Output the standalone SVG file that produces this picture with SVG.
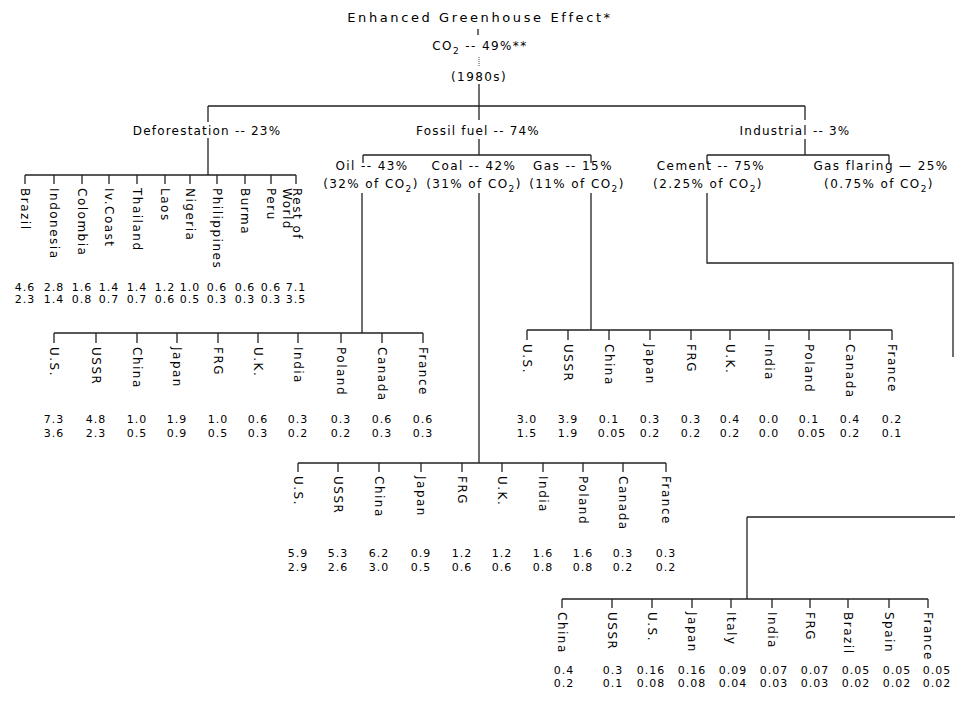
<svg xmlns="http://www.w3.org/2000/svg" width="955" height="701" viewBox="0 0 955 701">
<style>
text{font-family:"DejaVu Sans","Liberation Sans",sans-serif;fill:#000}
.title{font-size:13px;letter-spacing:2.6px;text-anchor:middle}
.h{font-size:12px;text-anchor:middle;letter-spacing:1.2px}
.s{font-size:12px;text-anchor:middle;letter-spacing:1.4px}
.lbl{font-size:12px;letter-spacing:1.5px}
.num{font-size:11px;text-anchor:middle;letter-spacing:1px}
.ln{stroke:#222;stroke-width:1.3;fill:none}
.dot{stroke:#444;stroke-width:1;stroke-dasharray:1 1;fill:none}
</style>
<rect width="955" height="701" fill="#fff"/>
<g id="connectors">
<path class="ln" d="M478,29V35"/>
<path class="dot" d="M479,57V67"/>
<path class="ln" d="M479,84V106 M208,106H805"/>
<path class="ln" d="M208,106V122 M208,138V175 M25,175H296 M25,175V184 M54,175V184 M82,175V184 M109,175V184 M137,175V184 M165,175V184 M190,175V184 M217,175V184 M245,175V184 M271,175V184 M296,175V184"/>
<path class="ln" d="M479,106V120 M479,139V155 M363,155H591 M363,155V163 M591,155V163"/>
<path class="ln" d="M805,106V120 M805,139V155 M707,155H889 M707,155V163 M889,155V163"/>
<path class="ln" d="M362,193V333 M54,333H423 M54,333V343 M96,333V343 M137,333V343 M177,333V343 M218,333V343 M258,333V343 M298,333V343 M341,333V343 M382,333V343 M423,333V343"/>
<path class="ln" d="M479,193V463 M298,463H666 M298,463V472 M338,463V472 M379,463V472 M421,463V472 M462,463V472 M502,463V472 M543,463V472 M583,463V472 M623,463V472 M666,463V472"/>
<path class="ln" d="M591,193V330 M527,330H892 M527,330V340 M568,330V340 M609,330V340 M650,330V340 M691,330V340 M730,330V340 M769,330V340 M809,330V340 M850,330V340 M892,330V340"/>
<path class="ln" d="M707,193V263H953V357 M747,517H955 M747,517V599 M562,599H928 M562,599V608 M612,599V608 M652,599V608 M692,599V608 M731,599V608 M772,599V608 M810,599V608 M848,599V608 M889,599V608 M928,599V608"/>
</g>
<g id="root">
<text class="title" x="480" y="22">Enhanced Greenhouse Effect*</text>
<text class="s" x="480" y="50">CO<tspan font-size="9" dy="4">2</tspan><tspan dy="-4"> -- 49%**</tspan></text>
<text class="s" x="479" y="81">(1980s)</text>
</g>
<g id="deforestation"><text class="h" x="207" y="135">Deforestation -- 23%</text></g>
<g id="fossil"><text class="h" x="478" y="135">Fossil fuel -- 74%</text></g>
<g id="industrial"><text class="h" x="795" y="135">Industrial -- 3%</text></g>
<g id="oil"><text class="s" x="372" y="170">Oil -- 43%</text><text class="s" x="371" y="188">(32% of CO<tspan font-size="9" dy="4">2</tspan><tspan dy="-4">)</tspan></text></g>
<g id="coal"><text class="s" x="474" y="170">Coal -- 42%</text><text class="s" x="474" y="188">(31% of CO<tspan font-size="9" dy="4">2</tspan><tspan dy="-4">)</tspan></text></g>
<g id="gas"><text class="s" x="573" y="170">Gas -- 15%</text><text class="s" x="577" y="188">(11% of CO<tspan font-size="9" dy="4">2</tspan><tspan dy="-4">)</tspan></text></g>
<g id="cement"><text class="s" x="711" y="170">Cement -- 75%</text><text class="s" x="708" y="188">(2.25% of CO<tspan font-size="9" dy="4">2</tspan><tspan dy="-4">)</tspan></text></g>
<g id="gasflaring"><text class="s" x="881" y="170">Gas flaring — 25%</text><text class="s" x="879" y="188">(0.75% of CO<tspan font-size="9" dy="4">2</tspan><tspan dy="-4">)</tspan></text></g>

<g id="def-leaves">
<g id="def-brazil"><text class="lbl" transform="translate(21,188) rotate(90)">Brazil</text><text class="num" x="25" y="291">4.6</text><text class="num" x="25" y="303">2.3</text></g>
<g id="def-indonesia"><text class="lbl" transform="translate(50,188) rotate(90)">Indonesia</text><text class="num" x="54" y="291">2.8</text><text class="num" x="54" y="303">1.4</text></g>
<g id="def-colombia"><text class="lbl" transform="translate(78,188) rotate(90)">Colombia</text><text class="num" x="82" y="291">1.6</text><text class="num" x="82" y="303">0.8</text></g>
<g id="def-ivcoast"><text class="lbl" transform="translate(105,188) rotate(90)">Iv.Coast</text><text class="num" x="109" y="291">1.4</text><text class="num" x="109" y="303">0.7</text></g>
<g id="def-thailand"><text class="lbl" transform="translate(133,188) rotate(90)">Thailand</text><text class="num" x="137" y="291">1.4</text><text class="num" x="137" y="303">0.7</text></g>
<g id="def-laos"><text class="lbl" transform="translate(161,188) rotate(90)">Laos</text><text class="num" x="165" y="291">1.2</text><text class="num" x="165" y="303">0.6</text></g>
<g id="def-nigeria"><text class="lbl" transform="translate(186,188) rotate(90)">Nigeria</text><text class="num" x="190" y="291">1.0</text><text class="num" x="190" y="303">0.5</text></g>
<g id="def-philippines"><text class="lbl" transform="translate(213,188) rotate(90)">Philippines</text><text class="num" x="217" y="291">0.6</text><text class="num" x="217" y="303">0.3</text></g>
<g id="def-burma"><text class="lbl" transform="translate(241,188) rotate(90)">Burma</text><text class="num" x="245" y="291">0.6</text><text class="num" x="245" y="303">0.3</text></g>
<g id="def-peru"><text class="lbl" transform="translate(267,188) rotate(90)">Peru</text><text class="num" x="271" y="291">0.6</text><text class="num" x="271" y="303">0.3</text></g>
<g id="def-rest"><text class="lbl" transform="translate(293,188) rotate(90)">Rest of</text><text class="lbl" transform="translate(283,188) rotate(90)">World</text><text class="num" x="296" y="291">7.1</text><text class="num" x="296" y="303">3.5</text></g>
</g>

<g id="oil-leaves">
<g id="oil-us"><text class="lbl" transform="translate(50,347) rotate(90)">U.S.</text><text class="num" x="54" y="423">7.3</text><text class="num" x="54" y="437">3.6</text></g>
<g id="oil-ussr"><text class="lbl" transform="translate(92,347) rotate(90)">USSR</text><text class="num" x="96" y="423">4.8</text><text class="num" x="96" y="437">2.3</text></g>
<g id="oil-china"><text class="lbl" transform="translate(133,347) rotate(90)">China</text><text class="num" x="137" y="423">1.0</text><text class="num" x="137" y="437">0.5</text></g>
<g id="oil-japan"><text class="lbl" transform="translate(173,347) rotate(90)">Japan</text><text class="num" x="177" y="423">1.9</text><text class="num" x="177" y="437">0.9</text></g>
<g id="oil-frg"><text class="lbl" transform="translate(214,347) rotate(90)">FRG</text><text class="num" x="218" y="423">1.0</text><text class="num" x="218" y="437">0.5</text></g>
<g id="oil-uk"><text class="lbl" transform="translate(254,347) rotate(90)">U.K.</text><text class="num" x="258" y="423">0.6</text><text class="num" x="258" y="437">0.3</text></g>
<g id="oil-india"><text class="lbl" transform="translate(294,347) rotate(90)">India</text><text class="num" x="298" y="423">0.3</text><text class="num" x="298" y="437">0.2</text></g>
<g id="oil-poland"><text class="lbl" transform="translate(337,347) rotate(90)">Poland</text><text class="num" x="341" y="423">0.3</text><text class="num" x="341" y="437">0.2</text></g>
<g id="oil-canada"><text class="lbl" transform="translate(378,347) rotate(90)">Canada</text><text class="num" x="382" y="423">0.6</text><text class="num" x="382" y="437">0.3</text></g>
<g id="oil-france"><text class="lbl" transform="translate(419,347) rotate(90)">France</text><text class="num" x="423" y="423">0.6</text><text class="num" x="423" y="437">0.3</text></g>
</g>

<g id="gas-leaves">
<g id="gas-us"><text class="lbl" transform="translate(523,344) rotate(90)">U.S.</text><text class="num" x="527" y="423">3.0</text><text class="num" x="527" y="437">1.5</text></g>
<g id="gas-ussr"><text class="lbl" transform="translate(564,344) rotate(90)">USSR</text><text class="num" x="568" y="423">3.9</text><text class="num" x="568" y="437">1.9</text></g>
<g id="gas-china"><text class="lbl" transform="translate(605,344) rotate(90)">China</text><text class="num" x="609" y="423">0.1</text><text class="num" x="612" y="437">0.05</text></g>
<g id="gas-japan"><text class="lbl" transform="translate(646,344) rotate(90)">Japan</text><text class="num" x="650" y="423">0.3</text><text class="num" x="650" y="437">0.2</text></g>
<g id="gas-frg"><text class="lbl" transform="translate(687,344) rotate(90)">FRG</text><text class="num" x="691" y="423">0.3</text><text class="num" x="691" y="437">0.2</text></g>
<g id="gas-uk"><text class="lbl" transform="translate(726,344) rotate(90)">U.K.</text><text class="num" x="730" y="423">0.4</text><text class="num" x="730" y="437">0.2</text></g>
<g id="gas-india"><text class="lbl" transform="translate(765,344) rotate(90)">India</text><text class="num" x="769" y="423">0.0</text><text class="num" x="769" y="437">0.0</text></g>
<g id="gas-poland"><text class="lbl" transform="translate(805,344) rotate(90)">Poland</text><text class="num" x="809" y="423">0.1</text><text class="num" x="812" y="437">0.05</text></g>
<g id="gas-canada"><text class="lbl" transform="translate(846,344) rotate(90)">Canada</text><text class="num" x="850" y="423">0.4</text><text class="num" x="850" y="437">0.2</text></g>
<g id="gas-france"><text class="lbl" transform="translate(888,344) rotate(90)">France</text><text class="num" x="892" y="423">0.2</text><text class="num" x="892" y="437">0.1</text></g>
</g>

<g id="coal-leaves">
<g id="coal-us"><text class="lbl" transform="translate(294,476) rotate(90)">U.S.</text><text class="num" x="298" y="557">5.9</text><text class="num" x="298" y="571">2.9</text></g>
<g id="coal-ussr"><text class="lbl" transform="translate(334,476) rotate(90)">USSR</text><text class="num" x="338" y="557">5.3</text><text class="num" x="338" y="571">2.6</text></g>
<g id="coal-china"><text class="lbl" transform="translate(375,476) rotate(90)">China</text><text class="num" x="379" y="557">6.2</text><text class="num" x="379" y="571">3.0</text></g>
<g id="coal-japan"><text class="lbl" transform="translate(417,476) rotate(90)">Japan</text><text class="num" x="421" y="557">0.9</text><text class="num" x="421" y="571">0.5</text></g>
<g id="coal-frg"><text class="lbl" transform="translate(458,476) rotate(90)">FRG</text><text class="num" x="462" y="557">1.2</text><text class="num" x="462" y="571">0.6</text></g>
<g id="coal-uk"><text class="lbl" transform="translate(498,476) rotate(90)">U.K.</text><text class="num" x="502" y="557">1.2</text><text class="num" x="502" y="571">0.6</text></g>
<g id="coal-india"><text class="lbl" transform="translate(539,476) rotate(90)">India</text><text class="num" x="543" y="557">1.6</text><text class="num" x="543" y="571">0.8</text></g>
<g id="coal-poland"><text class="lbl" transform="translate(579,476) rotate(90)">Poland</text><text class="num" x="583" y="557">1.6</text><text class="num" x="583" y="571">0.8</text></g>
<g id="coal-canada"><text class="lbl" transform="translate(619,476) rotate(90)">Canada</text><text class="num" x="623" y="557">0.3</text><text class="num" x="623" y="571">0.2</text></g>
<g id="coal-france"><text class="lbl" transform="translate(662,476) rotate(90)">France</text><text class="num" x="666" y="557">0.3</text><text class="num" x="666" y="571">0.2</text></g>
</g>

<g id="cement-leaves">
<g id="cem-china"><text class="lbl" transform="translate(558,612) rotate(90)">China</text><text class="num" x="564" y="674">0.4</text><text class="num" x="564" y="687">0.2</text></g>
<g id="cem-ussr"><text class="lbl" transform="translate(608,612) rotate(90)">USSR</text><text class="num" x="613" y="674">0.3</text><text class="num" x="613" y="687">0.1</text></g>
<g id="cem-us"><text class="lbl" transform="translate(648,612) rotate(90)">U.S.</text><text class="num" x="651" y="674">0.16</text><text class="num" x="651" y="687">0.08</text></g>
<g id="cem-japan"><text class="lbl" transform="translate(688,612) rotate(90)">Japan</text><text class="num" x="692" y="674">0.16</text><text class="num" x="692" y="687">0.08</text></g>
<g id="cem-italy"><text class="lbl" transform="translate(727,612) rotate(90)">Italy</text><text class="num" x="733" y="674">0.09</text><text class="num" x="733" y="687">0.04</text></g>
<g id="cem-india"><text class="lbl" transform="translate(768,612) rotate(90)">India</text><text class="num" x="774" y="674">0.07</text><text class="num" x="774" y="687">0.03</text></g>
<g id="cem-frg"><text class="lbl" transform="translate(806,612) rotate(90)">FRG</text><text class="num" x="815" y="674">0.07</text><text class="num" x="815" y="687">0.03</text></g>
<g id="cem-brazil"><text class="lbl" transform="translate(844,612) rotate(90)">Brazil</text><text class="num" x="856" y="674">0.05</text><text class="num" x="856" y="687">0.02</text></g>
<g id="cem-spain"><text class="lbl" transform="translate(885,612) rotate(90)">Spain</text><text class="num" x="897" y="674">0.05</text><text class="num" x="897" y="687">0.02</text></g>
<g id="cem-france"><text class="lbl" transform="translate(924,612) rotate(90)">France</text><text class="num" x="937" y="674">0.05</text><text class="num" x="937" y="687">0.02</text></g>
</g>
</svg>
